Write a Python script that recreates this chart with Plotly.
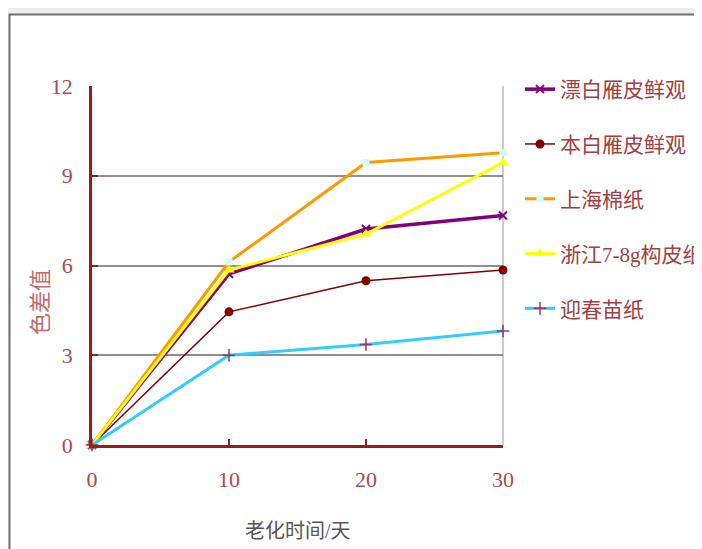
import plotly.graph_objects as go

days = [0, 10, 20, 30]
names = ["漂白雁皮鲜观", "本白雁皮鲜观", "上海棉纸", "浙江7-8g构皮纸", "迎春苗纸"]
v_piaobai = [0, 5.72, 7.22, 7.67]
v_benbai = [0, 4.45, 5.49, 5.85]
v_shanghai = [0, 6.12, 9.44, 9.77]
v_zhejiang = [0, 5.85, 7.05, 9.44]
v_yingchun = [0, 3.0, 3.36, 3.81]
y_ticks = [0, 3, 6, 9, 12]
x_ticks = [0, 10, 20, 30]

series = [v_piaobai, v_benbai, v_shanghai, v_zhejiang, v_yingchun]
styles = [
    dict(line=dict(color="#800080", width=3.5), marker=dict(symbol="x-thin-open", size=8, color="#800080", line=dict(width=2, color="#800080"))),
    dict(line=dict(color="#800000", width=1.5), marker=dict(symbol="circle", size=9, color="#800000")),
    dict(line=dict(color="#FF9900", width=3), marker=dict(symbol="square", size=7, color="#CCFFFF")),
    dict(line=dict(color="#FFFF00", width=3), marker=dict(symbol="triangle-up", size=10, color="#FFFF00")),
    dict(line=dict(color="#33CCFF", width=3), marker=dict(symbol="cross-thin-open", size=9, color="#993366", line=dict(width=1.5, color="#993366"))),
]

fig = go.Figure()
for i, (nm, vals, st) in enumerate(zip(names, series, styles)):
    fig.add_trace(go.Scatter(x=days, y=vals, name=nm, mode="lines+markers",
                             legendgroup=f"g{i}", cliponaxis=False, **st))

OFF = 8  # page body margin
W, H = 702 - OFF, 549 - OFF
L, R, T, B = 92 - OFF, 199, 86 - OFF, 104
pw, ph = W - L - R, H - T - B

def px_x(p):  # screen px -> paper
    return (p - OFF - L) / pw

def px_y(p):
    return (H - B - (p - OFF)) / ph

shapes = [
    dict(type="rect", xref="paper", yref="paper", x0=px_x(9.5), x1=px_x(760), y0=px_y(600), y1=px_y(14.5),
         fillcolor="white", line=dict(color="#6e6e6e", width=2), layer="below"),
    dict(type="line", xref="paper", yref="paper", x0=1, x1=1, y0=0, y1=1,
         line=dict(color="#cccccc", width=2), layer="below"),
]

serif = "Liberation Serif, Noto Sans CJK SC, serif"
annotations = [
    dict(text="色差值", xref="paper", yref="paper", x=px_x(40), y=px_y(302), showarrow=False,
         textangle=-90, xanchor="center", yanchor="middle",
         font=dict(family=serif, size=22, color="#c46a6a")),
    dict(text="老化时间/天", xref="paper", yref="paper", x=px_x(298), y=px_y(531), showarrow=False,
         xanchor="center", yanchor="middle",
         font=dict(family=serif, size=20, color="#555555")),
]

fig.update_layout(
    width=W, height=H,
    margin=dict(l=L, r=R, t=T, b=B, autoexpand=False),
    paper_bgcolor="#eeeeee",
    plot_bgcolor="rgba(0,0,0,0)",
    shapes=shapes,
    annotations=annotations,
    showlegend=True,
    legend=dict(x=px_x(520), y=px_y(69), xanchor="left", yanchor="top",
                font=dict(family=serif, size=21, color="#a04040"),
                tracegroupgap=24.5, bgcolor="rgba(0,0,0,0)", itemwidth=30),
    xaxis=dict(range=[0, 30], tickvals=x_ticks, ticktext=[str(t) for t in x_ticks],
               showgrid=False, zeroline=False, showline=True, linecolor="#9b1b1b", linewidth=2.5,
               ticks="inside", ticklen=6, tickwidth=2, tickcolor="#9b1b1b",
               tickfont=dict(family=serif, size=22, color="#b04848"), ticklabelstandoff=13),
    yaxis=dict(range=[0, 12], tickvals=y_ticks, ticktext=[str(t) for t in y_ticks],
               showgrid=True, gridcolor="#8f8f8f", gridwidth=2, zeroline=False,
               showline=True, linecolor="#9b1b1b", linewidth=2.5,
               ticks="inside", ticklen=6, tickwidth=2, tickcolor="#9b1b1b",
               tickfont=dict(family=serif, size=22, color="#b04848"), ticklabelstandoff=12),
)

fig.write_html("out.html")
